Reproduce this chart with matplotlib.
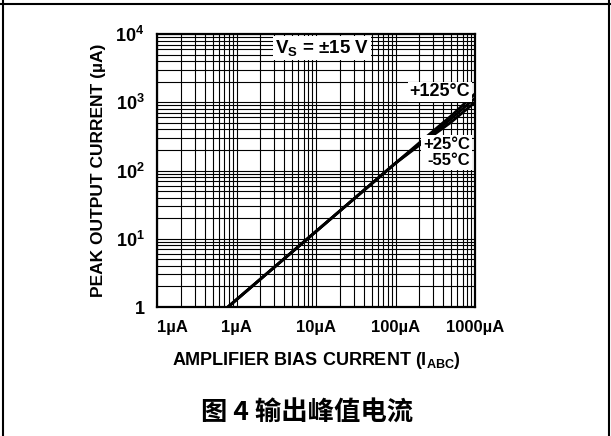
import matplotlib
matplotlib.use('Agg')
import matplotlib.pyplot as plt
from matplotlib.lines import Line2D
from matplotlib.ticker import LogLocator, NullFormatter

plt.rcParams['font.family'] = ['Liberation Sans', 'DejaVu Sans']
plt.rcParams['mathtext.fontset'] = 'custom'
plt.rcParams['mathtext.bf'] = 'Liberation Sans:bold'
plt.rcParams['mathtext.rm'] = 'Liberation Sans:bold'
plt.rcParams['mathtext.default'] = 'bf'

# peak output current vs amplifier bias current, three temperatures
bias_ua = [0.78, 10, 100, 200, 500, 1000]
out_m55 = [1, 12.8, 128, 235, 510, 1000]
out_25 = [1, 12.8, 128, 245, 570, 1150]
out_125 = [1, 12.8, 128, 255, 630, 1330]

x_ticks = [0.1, 1, 10, 100, 1000]
x_labels = ['1µA', '1µA', '10µA', '100µA', '1000µA']
y_ticks = [1, 10, 100, 1000, 10000]
y_labels = ['1', '10$^1$', '10$^2$', '10$^3$', '10$^4$']

fig = plt.figure(figsize=(6.11, 4.36), dpi=100)
ax = fig.add_axes([157 / 611, 1 - 307 / 436, 318 / 611, 273 / 436])

for y in (out_m55, out_25, out_125):
    ax.plot(bias_ua, y, color='black', lw=2.0, solid_capstyle='butt', zorder=3)

ax.set_xscale('log')
ax.set_yscale('log')
ax.set_xlim(0.1, 1000)
ax.set_ylim(1, 10000)

ax.xaxis.set_minor_locator(LogLocator(base=10, subs=range(2, 10), numticks=20))
ax.yaxis.set_minor_locator(LogLocator(base=10, subs=range(2, 10), numticks=20))
ax.xaxis.set_minor_formatter(NullFormatter())
ax.yaxis.set_minor_formatter(NullFormatter())
ax.grid(which='both', color='black', lw=0.8)
ax.set_axisbelow(True)
ax.tick_params(which='both', length=0)

ax.set_xticks(x_ticks)
ax.set_xticklabels(x_labels, fontsize=12, fontweight='bold')
ax.set_yticks(y_ticks)
ax.set_yticklabels(y_labels, fontsize=13, fontweight='bold')
ax.tick_params(axis='x', pad=9)
ax.tick_params(axis='y', pad=9)
ax.get_xticklabels()[0].set_ha('left')

for s in ax.spines.values():
    s.set_linewidth(1.6)

ax.set_xlabel('AMPLIFIER BIAS CURRENT (I$_{ABC}$)', fontsize=13,
              fontweight='bold', labelpad=11)
ax.set_ylabel('PEAK OUTPUT CURRENT (µA)', fontsize=12.5,
              fontweight='bold', labelpad=7)

box = dict(facecolor='white', edgecolor='none', pad=1.2)
ax.text(0.519, 0.949, 'V$_S$ = ±15 V', transform=ax.transAxes,
        ha='center', va='center', fontsize=13.5, fontweight='bold', bbox=box, zorder=4)
ax.text(0.984, 0.788, '+125°C', transform=ax.transAxes, ha='right', va='center',
        fontsize=13, fontweight='bold', bbox=box, zorder=4)
ax.text(0.984, 0.596, '+25°C', transform=ax.transAxes, ha='right', va='center',
        fontsize=12, fontweight='bold', bbox=box, zorder=4)
ax.text(0.984, 0.535, '-55°C', transform=ax.transAxes, ha='right', va='center',
        fontsize=12, fontweight='bold', bbox=box, zorder=4)

# caption under the chart
fig.text(307 / 611, 1 - 413 / 436, '图 4 输出峰值电流', ha='center', va='center',
         fontsize=19, fontweight='bold', family=['Noto Sans CJK SC', 'DejaVu Sans'])

# table frame around the figure
fig.add_artist(Line2D([0, 1], [1 - 4.5 / 436] * 2, color='black', lw=1.5,
                      transform=fig.transFigure))
fig.add_artist(Line2D([2.5 / 611] * 2, [0, 1], color='black', lw=1.5,
                      transform=fig.transFigure))
fig.add_artist(Line2D([608.5 / 611] * 2, [0, 1], color='black', lw=1.5,
                      transform=fig.transFigure))

fig.savefig('out.png', dpi=100)
